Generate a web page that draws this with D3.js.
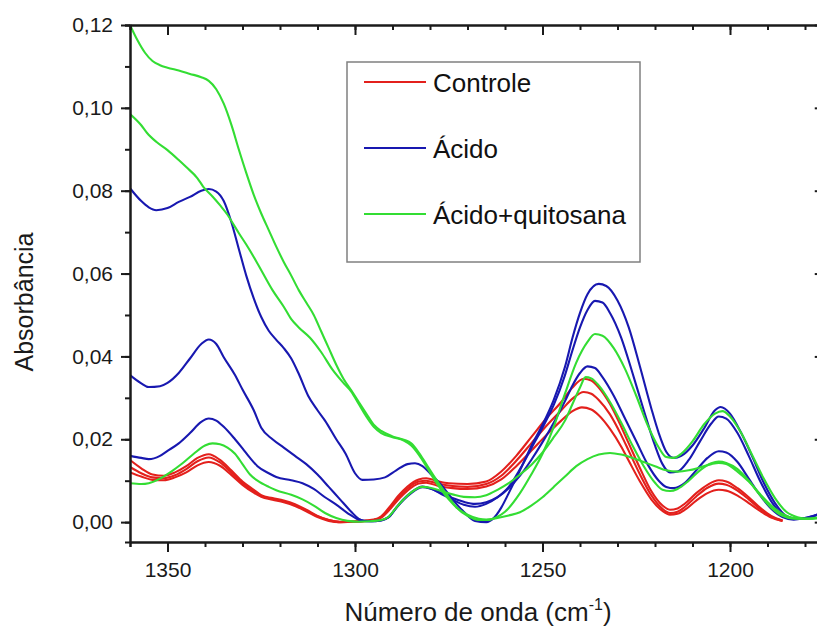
<!DOCTYPE html>
<html>
<head>
<meta charset="utf-8">
<script src="https://cdn.jsdelivr.net/npm/d3@7"></script>
<style>
  html, body { margin: 0; padding: 0; background: #fff; }
  svg { display: block; font-family: "Liberation Sans", Arial, sans-serif; }
</style>
</head>
<body>
<svg id="chart" width="817" height="626"></svg>
<script>
// ---------- DATA (wavenumber cm-1, absorbance) ----------
const controle1 = [[1360,0.0150],[1357,0.0130],[1354,0.0115],[1351,0.0112],[1348,0.0120],[1345,0.0135],[1342,0.0155],[1339,0.0164],[1336,0.0150],[1333,0.0125],[1330,0.0098],[1327,0.0078],[1325,0.0065],[1322,0.0058],[1319,0.0052],[1316,0.0043],[1313,0.0030],[1310,0.0015],[1307,0.0005],[1304,0.0001],[1300,0.0002],[1297,0.0004],[1295,0.0006],[1293,0.0014],[1290.5,0.0040],[1288.5,0.0063],[1286,0.0086],[1283,0.0103],[1281,0.0106],[1278,0.0099],[1275,0.0094],[1270,0.0092],[1265,0.0098],[1261,0.0122],[1257,0.0160],[1253,0.0205],[1249,0.0250],[1245,0.0290],[1242,0.0325],[1239,0.0346],[1237,0.0342],[1235,0.0325],[1232,0.0285],[1229,0.0230],[1227,0.0190],[1224,0.0130],[1221,0.0075],[1218,0.0040],[1216,0.0030],[1214,0.0033],[1212,0.0045],[1209,0.0070],[1206,0.0090],[1203,0.0101],[1201,0.0098],[1198,0.0082],[1195,0.0060],[1192,0.0035],[1189,0.0015],[1186,0.0004]];
const controle2 = [[1360,0.0133],[1357,0.0118],[1354,0.0108],[1351,0.0106],[1348,0.0113],[1345,0.0128],[1342,0.0147],[1339,0.0156],[1336,0.0144],[1333,0.0120],[1330,0.0094],[1327,0.0074],[1325,0.0063],[1322,0.0056],[1319,0.0050],[1316,0.0041],[1313,0.0028],[1310,0.0014],[1307,0.0005],[1304,0.0000],[1300,0.0001],[1297,0.0003],[1295,0.0005],[1293,0.0012],[1290.5,0.0036],[1288.5,0.0058],[1286,0.0081],[1283,0.0098],[1281,0.0100],[1278,0.0093],[1274,0.0087],[1270,0.0085],[1265,0.0092],[1261,0.0112],[1257,0.0148],[1253,0.0190],[1249,0.0232],[1245,0.0270],[1242,0.0298],[1239,0.0314],[1237,0.0310],[1235,0.0295],[1232,0.0260],[1229,0.0210],[1227,0.0172],[1224,0.0115],[1221,0.0065],[1218,0.0032],[1216,0.0022],[1214,0.0025],[1212,0.0037],[1209,0.0062],[1206,0.0083],[1203,0.0093],[1201,0.0090],[1198,0.0076],[1195,0.0055],[1192,0.0032],[1189,0.0013],[1186,0.0003]];
const controle3 = [[1360,0.0120],[1357,0.0110],[1354,0.0102],[1351,0.0101],[1348,0.0108],[1345,0.0120],[1342,0.0137],[1339,0.0145],[1336,0.0136],[1333,0.0114],[1330,0.0090],[1327,0.0071],[1325,0.0061],[1322,0.0054],[1319,0.0048],[1316,0.0039],[1313,0.0026],[1310,0.0012],[1307,0.0003],[1304,0.0000],[1300,0.0001],[1297,0.0003],[1295,0.0005],[1293,0.0011],[1290.5,0.0033],[1288.5,0.0054],[1286,0.0076],[1283,0.0093],[1281,0.0095],[1278,0.0088],[1274,0.0082],[1270,0.0080],[1265,0.0086],[1261,0.0103],[1257,0.0135],[1253,0.0172],[1249,0.0210],[1245,0.0245],[1242,0.0268],[1239.5,0.0277],[1237,0.0272],[1235,0.0258],[1232,0.0225],[1229,0.0182],[1227,0.0148],[1224,0.0098],[1221,0.0055],[1218,0.0027],[1216,0.0018],[1214,0.0020],[1212,0.0030],[1209,0.0052],[1206,0.0070],[1203,0.0078],[1201,0.0076],[1198,0.0064],[1195,0.0046],[1192,0.0027],[1189,0.0011],[1186,0.0003]];

const acido1 = [[1360,0.0806],[1357,0.0775],[1355,0.0760],[1353,0.0753],[1350,0.0758],[1347,0.0773],[1344,0.0785],[1341,0.0800],[1339,0.0804],[1337,0.0798],[1335,0.0775],[1333,0.0725],[1331,0.0660],[1329,0.0595],[1327,0.0540],[1325,0.0495],[1323,0.0462],[1321,0.0440],[1319,0.0420],[1317,0.0395],[1315,0.0358],[1312.5,0.0305],[1310,0.0270],[1308,0.0245],[1305,0.0200],[1302.5,0.0165],[1300,0.0118],[1298,0.0102],[1295,0.0103],[1292,0.0108],[1289,0.0125],[1286,0.0140],[1284,0.0142],[1282,0.0135],[1280,0.0118],[1277,0.0090],[1274,0.0055],[1271,0.0025],[1268,0.0003],[1265,0.0000],[1263,0.0010],[1261,0.0035],[1259,0.0070],[1256,0.0125],[1253,0.0183],[1250,0.0235],[1247,0.0295],[1244,0.0375],[1242,0.0445],[1240,0.0505],[1238,0.0550],[1235,0.0575],[1233,0.0570],[1230,0.0535],[1227,0.0470],[1224,0.0375],[1221,0.0275],[1219,0.0215],[1217,0.0170],[1215,0.0155],[1213,0.0160],[1210,0.0185],[1207,0.0225],[1204,0.0270],[1202.5,0.0278],[1200,0.0262],[1197,0.0215],[1194,0.0157],[1191,0.0095],[1188,0.0046],[1185,0.0015],[1182,0.0008],[1179,0.0010],[1176,0.0022]];
const acido2 = [[1360,0.0355],[1357,0.0335],[1355,0.0326],[1352,0.0328],[1350,0.0336],[1347,0.0360],[1344,0.0395],[1341,0.0430],[1339,0.0441],[1337,0.0430],[1335,0.0398],[1332,0.0355],[1330,0.0320],[1327,0.0270],[1325,0.0228],[1322,0.0200],[1319,0.0180],[1316,0.0160],[1313,0.0140],[1310,0.0115],[1307,0.0085],[1304,0.0055],[1301,0.0025],[1299,0.0008],[1297,0.0002],[1294,0.0003],[1291,0.0012],[1289,0.0035],[1287,0.0056],[1285,0.0072],[1282,0.0086],[1280,0.0082],[1277,0.0068],[1274,0.0054],[1271,0.0042],[1268,0.0037],[1265,0.0044],[1262,0.0060],[1259,0.0085],[1256,0.0128],[1253,0.0178],[1250,0.0228],[1247,0.0283],[1244,0.0355],[1242,0.0415],[1240,0.0470],[1238,0.0512],[1236,0.0534],[1234,0.0530],[1232,0.0505],[1229,0.0445],[1226,0.0360],[1223,0.0270],[1220,0.0185],[1218,0.0140],[1216,0.0120],[1214,0.0122],[1211,0.0150],[1208,0.0195],[1205,0.0238],[1203,0.0255],[1201,0.0250],[1198,0.0215],[1195,0.0160],[1192,0.0100],[1189,0.0050],[1186,0.0018],[1183,0.0008],[1180,0.0010],[1176,0.0020]];
const acido3 = [[1360,0.0160],[1357,0.0155],[1355,0.0152],[1352,0.0160],[1350,0.0172],[1347,0.0190],[1344,0.0215],[1341,0.0242],[1339,0.0250],[1337,0.0245],[1335,0.0230],[1332,0.0200],[1330,0.0178],[1328,0.0155],[1326,0.0135],[1323,0.0118],[1321,0.0109],[1317,0.0101],[1314,0.0094],[1311,0.0080],[1308,0.0060],[1305,0.0042],[1302,0.0022],[1299,0.0006],[1296,0.0002],[1293,0.0004],[1291,0.0012],[1289,0.0034],[1287,0.0054],[1285,0.0070],[1282,0.0084],[1280,0.0081],[1277,0.0070],[1274,0.0058],[1271,0.0049],[1268,0.0044],[1265,0.0048],[1262,0.0060],[1259,0.0082],[1256,0.0112],[1253,0.0150],[1250,0.0193],[1247,0.0240],[1244,0.0292],[1242,0.0330],[1240,0.0360],[1238,0.0376],[1236,0.0372],[1234,0.0350],[1231,0.0305],[1228,0.0250],[1225,0.0195],[1222,0.0140],[1219,0.0100],[1217,0.0085],[1215,0.0082],[1212,0.0095],[1209,0.0125],[1206,0.0155],[1203,0.0171],[1201,0.0168],[1198,0.0145],[1195,0.0105],[1192,0.0065],[1189,0.0032],[1186,0.0012],[1183,0.0006],[1180,0.0010],[1176,0.0020]];

const quitosana1 = [[1360,0.1200],[1358,0.1163],[1356,0.1133],[1354,0.1113],[1352,0.1103],[1350,0.1097],[1347,0.1090],[1344,0.1082],[1341,0.1074],[1339,0.1065],[1337,0.1045],[1335,0.1010],[1333,0.0960],[1331,0.0900],[1329,0.0843],[1327,0.0790],[1325,0.0745],[1323,0.0705],[1321,0.0665],[1319,0.0628],[1317,0.0595],[1315,0.0560],[1313,0.0530],[1311,0.0500],[1309,0.0460],[1307,0.0420],[1305,0.0380],[1303,0.0345],[1301,0.0318],[1299,0.0290],[1297,0.0262],[1295,0.0235],[1293,0.0220],[1290,0.0207],[1287,0.0199],[1285,0.0190],[1283,0.0168],[1281,0.0140],[1279,0.0112],[1277,0.0085],[1275,0.0060],[1273,0.0036],[1270,0.0015],[1267,0.0005],[1265,0.0005],[1262,0.0013],[1260,0.0025],[1256,0.0070],[1253,0.0115],[1250,0.0165],[1247,0.0230],[1244,0.0310],[1241,0.0385],[1238,0.0435],[1236,0.0454],[1234,0.0450],[1231,0.0420],[1228,0.0370],[1225,0.0305],[1222,0.0235],[1219,0.0180],[1217,0.0157],[1215,0.0155],[1213,0.0165],[1210,0.0195],[1207,0.0235],[1204,0.0262],[1202,0.0268],[1200,0.0255],[1197,0.0215],[1194,0.0160],[1191,0.0105],[1188,0.0058],[1185,0.0025],[1182,0.0012],[1179,0.0008],[1176,0.0010]];
const quitosana2 = [[1360,0.0985],[1357,0.0958],[1355.5,0.0940],[1353,0.0918],[1350,0.0898],[1347,0.0874],[1345,0.0857],[1342,0.0830],[1340.5,0.0810],[1338,0.0786],[1336,0.0765],[1334,0.0742],[1332.5,0.0720],[1331,0.0698],[1329,0.0670],[1327,0.0640],[1325,0.0608],[1322,0.0560],[1319,0.0520],[1317,0.0490],[1315,0.0470],[1312,0.0445],[1309,0.0410],[1306,0.0368],[1303,0.0335],[1301,0.0315],[1299,0.0285],[1297,0.0255],[1295,0.0230],[1293,0.0215],[1290,0.0205],[1287,0.0197],[1285,0.0185],[1283,0.0163],[1281,0.0135],[1279,0.0105],[1277,0.0078],[1275,0.0055],[1273,0.0036],[1270,0.0018],[1267,0.0008],[1265,0.0006],[1262,0.0010],[1259,0.0016],[1256,0.0024],[1253,0.0040],[1250,0.0060],[1247,0.0085],[1244,0.0110],[1241,0.0135],[1238,0.0152],[1235,0.0163],[1232,0.0167],[1229,0.0163],[1226,0.0155],[1223,0.0145],[1220,0.0135],[1217,0.0125],[1214,0.0122],[1211,0.0125],[1208,0.0132],[1205,0.0140],[1203,0.0143],[1201,0.0140],[1198,0.0122],[1195,0.0098],[1192,0.0068],[1189,0.0040],[1186,0.0020],[1183,0.0010],[1180,0.0008],[1176,0.0010]];
const quitosana3 = [[1360,0.0094],[1357,0.0092],[1355,0.0094],[1352,0.0105],[1349,0.0122],[1346,0.0142],[1343,0.0165],[1340,0.0185],[1338,0.0190],[1336,0.0188],[1334,0.0180],[1332,0.0165],[1330,0.0140],[1328,0.0115],[1326,0.0100],[1323,0.0085],[1321,0.0077],[1317,0.0066],[1314,0.0055],[1311,0.0040],[1308,0.0022],[1305,0.0010],[1302,0.0003],[1299,0.0001],[1296,0.0002],[1293,0.0005],[1291,0.0013],[1289,0.0035],[1287,0.0055],[1285,0.0072],[1282,0.0085],[1280,0.0083],[1277,0.0075],[1274,0.0067],[1271,0.0061],[1268,0.0060],[1265,0.0065],[1262,0.0078],[1259,0.0094],[1256,0.0115],[1253,0.0138],[1250,0.0168],[1247,0.0205],[1244,0.0245],[1242,0.0285],[1240,0.0325],[1238.5,0.0350],[1237,0.0347],[1235,0.0330],[1232,0.0290],[1229,0.0240],[1226,0.0185],[1223,0.0135],[1220,0.0095],[1218,0.0078],[1216,0.0075],[1214,0.0080],[1211,0.0100],[1208,0.0125],[1205,0.0142],[1203,0.0146],[1201,0.0143],[1198,0.0128],[1195,0.0100],[1192,0.0065],[1189,0.0035],[1186,0.0015],[1183,0.0008],[1180,0.0008],[1176,0.0012]];

const seriesNames = ["Controle", "Ácido", "Ácido+quitosana"];
const seriesColors = ["#e3201c", "#1818b0", "#33dd33"];
const xTicks = [1350, 1300, 1250, 1200];
const yTicks = [0, 0.02, 0.04, 0.06, 0.08, 0.10, 0.12];
const xMinorTicks = d3.range(1360, 1174, -10);
const yMinorTicks = d3.range(0, 0.1201, 0.01);

const groups = [
  {name: seriesNames[0], color: seriesColors[0], lines: [controle1, controle2, controle3]},
  {name: seriesNames[1], color: seriesColors[1], lines: [acido1, acido2, acido3]},
  {name: seriesNames[2], color: seriesColors[2], lines: [quitosana1, quitosana2, quitosana3]}
];

// ---------- LAYOUT ----------
const svg = d3.select("#chart");
const L = 130, R = 823.75, T = 25, B = 542;
const x = d3.scaleLinear().domain([1360, 1175]).range([L, R]);
const y = d3.scaleLinear().domain([-0.0048, 0.12]).range([B, T]);

svg.append("defs").append("clipPath").attr("id", "clip")
  .append("rect").attr("x", L).attr("y", T).attr("width", R - L).attr("height", B - T);

const line = d3.line().x(d => x(d[0])).y(d => y(d[1])).curve(d3.curveMonotoneX);

const plot = svg.append("g").attr("clip-path", "url(#clip)");
groups.forEach(g => {
  g.lines.forEach(data => {
    plot.append("path").datum(data)
      .attr("d", line)
      .attr("fill", "none")
      .attr("stroke", g.color)
      .attr("stroke-width", 2.1)
      .attr("stroke-linejoin", "round");
  });
});

// ---------- AXES ----------
const fmt = v => d3.format(".2f")(v).replace(".", ",");
const axisColor = "#1a1a1a";

function styleAxis(sel) {
  sel.selectAll(".domain").attr("stroke", axisColor).attr("stroke-width", 2);
  sel.selectAll(".tick line").attr("stroke", axisColor).attr("stroke-width", 2);
  sel.selectAll(".tick text").attr("fill", "#1a1a1a")
    .style("font-family", '"Liberation Sans", Arial, sans-serif').style("font-size", "21px");
}

// minor ticks
svg.append("g").attr("transform", `translate(0,${B})`)
  .call(d3.axisBottom(x).tickValues(xMinorTicks).tickSize(5).tickFormat("")).call(styleAxis);
svg.append("g").attr("transform", `translate(0,${T})`)
  .call(d3.axisTop(x).tickValues(xMinorTicks).tickSize(-5).tickFormat("")).call(styleAxis);
svg.append("g").attr("transform", `translate(${L},0)`)
  .call(d3.axisLeft(y).tickValues(yMinorTicks).tickSize(5).tickFormat("")).call(styleAxis);
svg.append("g").attr("transform", `translate(${R},0)`)
  .call(d3.axisRight(y).tickValues(yMinorTicks).tickSize(-5).tickFormat("")).call(styleAxis);

// major ticks
svg.append("g").attr("transform", `translate(0,${B})`)
  .call(d3.axisBottom(x).tickValues(xTicks).tickSize(10).tickSizeOuter(0).tickPadding(10).tickFormat(d3.format("d"))).call(styleAxis);
svg.append("g").attr("transform", `translate(0,${T})`)
  .call(d3.axisTop(x).tickValues(xTicks).tickSize(-10).tickSizeOuter(0).tickFormat("")).call(styleAxis);
svg.append("g").attr("transform", `translate(${L},0)`)
  .call(d3.axisLeft(y).tickValues(yTicks).tickSize(9).tickSizeOuter(0).tickPadding(8).tickFormat(fmt)).call(styleAxis);
svg.append("g").attr("transform", `translate(${R},0)`)
  .call(d3.axisRight(y).tickValues(yTicks).tickSize(-9).tickSizeOuter(0).tickFormat("")).call(styleAxis);

// ---------- AXIS TITLES ----------
const xt = svg.append("text")
  .attr("x", 478).attr("y", 621)
  .attr("text-anchor", "middle")
  .style("font-size", "26px").attr("fill", "#1a1a1a");
xt.append("tspan").text("Número de onda (cm");
xt.append("tspan").text("-1").style("font-size", "16px").attr("dy", -11);
xt.append("tspan").text(")").attr("dy", 11);

svg.append("text")
  .attr("transform", "translate(33,302) rotate(-90)")
  .attr("text-anchor", "middle")
  .style("font-size", "25px").attr("fill", "#1a1a1a")
  .text("Absorbância");

// ---------- LEGEND ----------
const lg = svg.append("g");
lg.append("rect").attr("x", 347).attr("y", 62).attr("width", 293).attr("height", 200)
  .attr("fill", "#fff").attr("stroke", "#808080").attr("stroke-width", 1.5);
seriesNames.forEach((name, i) => {
  const yy = 82 + i * 66;
  lg.append("line").attr("x1", 364).attr("x2", 426).attr("y1", yy).attr("y2", yy)
    .attr("stroke", seriesColors[i]).attr("stroke-width", 2.1);
  lg.append("text").attr("x", 433).attr("y", yy + 10)
    .style("font-size", "26px").attr("fill", "#111").text(name);
});
</script>
</body>
</html>
